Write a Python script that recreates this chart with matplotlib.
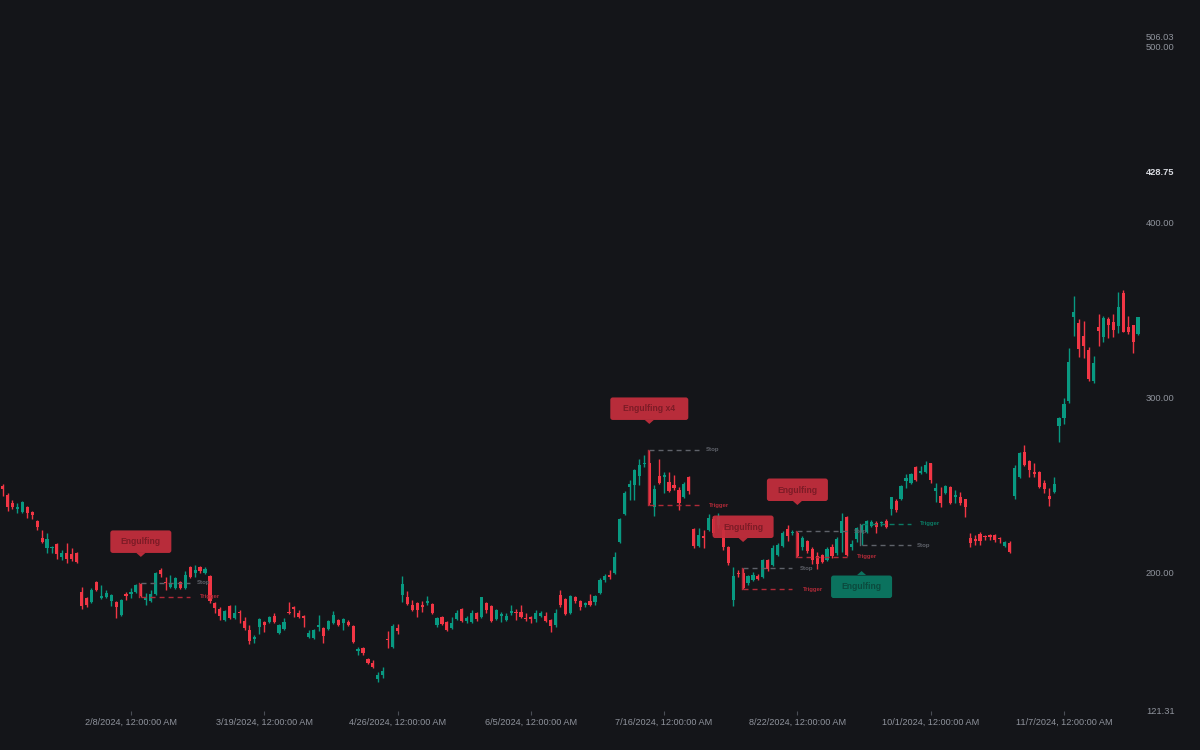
import numpy as np
import matplotlib.pyplot as plt
import matplotlib.transforms as mtransforms
from matplotlib.patches import FancyBboxPatch, Polygon

plt.rcParams['font.family'] = ['Liberation Sans', 'DejaVu Sans']

# daily OHLC, one row per 10 bars (first bar = 1/2/2024)
opens = [249.6, 244.4, 239.9, 236.4, 234.7, 237.6, 234.7, 229.6, 219.9, 214.2,
         214.2, 216.5, 209.1, 211.4, 210.8, 211.4, 189.1, 185.7, 183.4, 194.8,
         185.7, 186.3, 184.0, 183.4, 176.0, 188.0, 188.0, 189.1, 193.7, 184.6,
         184.0, 188.0, 201.7, 194.8, 192.0, 191.4, 194.8, 191.4, 203.4, 200.0,
         203.4, 200.0, 198.3, 182.9, 179.4, 173.2, 181.2, 174.3, 177.7, 172.6,
         167.5, 162.4, 169.2, 172.0, 172.0, 175.5, 165.8, 168.0, 177.7, 180.6,
         177.2, 175.5, 163.5, 162.9, 169.2, 168.6, 168.0, 171.5, 173.2, 171.5,
         172.0, 169.7, 155.5, 157.2, 150.9, 148.7, 139.5, 141.8, 162.4, 157.8,
         168.6, 187.4, 186.3, 181.7, 182.9, 181.7, 182.9, 182.3, 170.3, 174.9,
         172.0, 168.6, 173.8, 179.4, 172.6, 172.0, 177.2, 174.9, 182.9, 181.2,
         173.8, 175.5, 173.2, 177.2, 177.7, 177.7, 174.3, 174.9, 173.8, 175.5,
         175.5, 173.2, 170.3, 187.4, 185.1, 177.2, 186.3, 184.0, 181.7, 184.0,
         183.4, 188.6, 196.0, 198.8, 200.0, 217.6, 233.6, 249.0, 250.1, 255.3,
         262.1, 262.7, 237.6, 255.3, 254.7, 251.8, 250.1, 247.3, 243.3, 254.7,
         225.0, 215.4, 221.1, 224.5, 230.7, 227.3, 224.5, 214.8, 184.6, 200.0,
         200.0, 194.3, 196.0, 198.3, 197.7, 207.4, 204.5, 210.2, 215.4, 225.0,
         222.8, 222.8, 214.8, 218.2, 213.7, 209.7, 210.2, 207.4, 214.8, 211.4,
         222.8, 231.9, 214.8, 219.3, 223.3, 223.3, 226.7, 228.4, 228.4, 229.6,
         236.4, 241.0, 242.1, 252.4, 251.3, 260.4, 257.0, 257.5, 262.7, 246.7,
         243.9, 245.6, 249.0, 243.3, 243.3, 242.1, 219.9, 219.3, 222.2, 221.1,
         221.6, 221.6, 219.9, 215.4, 217.1, 243.9, 254.7, 268.9, 263.8, 257.5,
         257.5, 251.3, 243.9, 246.1, 283.8, 288.3, 298.0, 345.9, 342.5, 335.1,
         327.1, 309.4, 340.2, 334.5, 344.7, 343.0, 340.7, 359.6, 340.2, 341.3,
         336.1]
highs = [250.7, 245.6, 241.6, 239.9, 241.0, 238.2, 235.3, 230.2, 224.5, 222.8,
         215.4, 217.1, 213.1, 217.1, 214.2, 212.0, 192.0, 186.3, 191.4, 195.4,
         193.1, 190.3, 188.0, 184.0, 185.1, 189.1, 191.4, 193.7, 194.3, 188.6,
         190.3, 200.5, 202.8, 197.7, 198.8, 197.7, 195.4, 201.1, 204.0, 204.5,
         204.0, 203.4, 198.8, 183.4, 180.6, 178.9, 181.7, 181.7, 178.9, 174.9,
         170.3, 164.6, 174.3, 172.6, 175.5, 177.2, 170.9, 174.3, 183.4, 181.2,
         178.9, 176.0, 167.5, 168.0, 176.0, 169.2, 173.2, 178.3, 173.8, 174.3,
         173.2, 170.3, 157.8, 157.8, 151.5, 150.4, 143.5, 146.4, 166.9, 170.9,
         170.9, 198.3, 189.7, 184.6, 183.4, 184.0, 186.9, 182.9, 174.9, 175.5,
         172.6, 174.9, 178.9, 180.0, 175.5, 178.9, 177.7, 186.3, 183.4, 181.7,
         179.4, 177.7, 177.2, 181.7, 179.4, 181.7, 177.2, 175.5, 178.9, 178.3,
         177.7, 173.8, 179.4, 190.3, 185.7, 187.4, 186.9, 184.6, 183.4, 188.0,
         187.4, 197.1, 199.4, 201.7, 212.0, 231.3, 246.7, 253.0, 259.2, 264.9,
         267.2, 270.1, 250.1, 264.9, 257.5, 257.5, 255.8, 249.0, 251.8, 255.3,
         225.6, 225.6, 224.5, 233.6, 232.5, 234.2, 226.2, 215.4, 203.4, 201.7,
         202.8, 198.8, 200.5, 199.4, 207.9, 207.9, 215.9, 217.1, 223.9, 227.3,
         224.5, 223.9, 221.1, 218.8, 214.8, 212.0, 210.8, 214.8, 216.5, 220.5,
         234.2, 232.5, 218.8, 226.2, 227.9, 230.2, 230.2, 229.6, 229.6, 230.7,
         243.3, 242.1, 250.1, 256.4, 257.0, 260.9, 260.9, 263.8, 262.7, 251.3,
         249.0, 250.1, 249.6, 247.3, 246.1, 242.1, 222.8, 221.6, 223.3, 221.6,
         222.2, 222.2, 220.5, 218.2, 218.2, 261.5, 268.9, 272.9, 264.4, 262.7,
         258.1, 253.0, 248.4, 254.7, 288.9, 299.7, 328.2, 357.9, 344.7, 343.6,
         328.8, 323.7, 347.6, 346.5, 345.9, 347.6, 360.1, 361.3, 346.5, 341.3,
         345.9]
lows = [243.9, 235.3, 236.4, 234.2, 234.2, 231.3, 230.7, 224.5, 217.1, 211.4,
        211.4, 207.9, 207.4, 205.7, 206.8, 205.7, 179.4, 180.6, 182.9, 189.7,
        185.1, 185.7, 181.2, 174.3, 175.5, 184.6, 185.7, 188.6, 186.3, 181.7,
        183.4, 187.4, 197.7, 190.3, 191.4, 190.8, 190.8, 190.8, 197.1, 197.7,
        200.0, 199.4, 182.9, 177.2, 173.2, 172.6, 173.8, 173.8, 171.5, 167.5,
        159.5, 160.1, 165.2, 166.3, 171.5, 171.5, 165.2, 167.5, 176.6, 174.9,
        174.3, 169.2, 162.9, 162.4, 166.9, 160.1, 167.5, 170.9, 169.7, 167.5,
        169.7, 160.1, 153.2, 153.2, 148.1, 145.8, 137.8, 140.1, 157.2, 157.2,
        165.2, 183.4, 181.7, 178.3, 174.9, 177.7, 181.7, 176.6, 169.2, 170.3,
        166.9, 168.0, 173.2, 172.0, 171.5, 171.5, 172.6, 174.3, 177.2, 172.0,
        173.2, 172.0, 172.6, 176.0, 173.2, 174.3, 172.6, 171.5, 172.0, 174.9,
        172.0, 166.3, 169.2, 180.6, 176.0, 176.6, 182.9, 178.9, 180.6, 181.2,
        181.7, 188.0, 194.8, 196.5, 199.4, 217.1, 233.0, 241.6, 241.6, 250.1,
        260.4, 238.7, 232.5, 250.7, 245.6, 246.1, 247.3, 235.9, 242.7, 245.0,
        214.2, 214.8, 214.2, 223.9, 221.6, 225.6, 213.1, 204.5, 181.2, 197.7,
        190.8, 193.1, 195.4, 196.0, 197.1, 201.1, 203.9, 209.7, 214.8, 218.2,
        221.6, 209.1, 213.1, 211.4, 205.1, 202.2, 205.7, 206.8, 208.5, 210.2,
        212.0, 209.7, 213.1, 217.6, 215.9, 222.8, 226.2, 222.8, 226.7, 225.6,
        233.0, 234.7, 241.6, 248.4, 250.7, 252.4, 256.4, 257.0, 251.3, 240.4,
        237.6, 245.0, 239.3, 239.9, 238.7, 231.9, 214.8, 215.9, 215.9, 218.8,
        218.8, 217.6, 217.1, 214.8, 211.4, 242.1, 254.1, 260.9, 254.7, 254.7,
        248.4, 245.6, 238.2, 245.6, 274.6, 284.9, 296.9, 335.0, 323.1, 322.5,
        309.4, 308.3, 329.4, 331.6, 333.9, 334.5, 336.8, 337.3, 336.1, 325.4,
        335.6]
closes = [247.9, 237.6, 237.6, 237.6, 240.4, 234.2, 233.0, 226.2, 217.6, 219.3,
          214.8, 210.8, 211.4, 207.9, 207.9, 206.2, 181.2, 181.7, 190.3, 190.3,
          186.9, 188.6, 187.4, 180.6, 184.6, 186.9, 189.1, 193.1, 186.9, 185.7,
          188.0, 200.0, 199.4, 194.3, 194.3, 197.1, 191.4, 198.8, 197.7, 201.7,
          201.1, 202.2, 184.0, 180.0, 175.5, 178.3, 174.3, 177.2, 177.2, 168.6,
          161.2, 163.5, 173.8, 170.3, 174.9, 172.0, 170.3, 172.0, 177.2, 179.4,
          174.9, 174.3, 165.8, 167.5, 170.3, 164.1, 172.6, 176.0, 170.3, 173.8,
          170.3, 160.6, 156.6, 154.4, 148.7, 146.4, 141.8, 144.1, 161.8, 169.7,
          166.9, 193.7, 182.3, 178.9, 178.9, 180.6, 184.0, 177.2, 174.3, 170.9,
          167.5, 171.5, 177.2, 172.6, 174.3, 177.2, 173.8, 186.3, 178.9, 172.6,
          178.9, 176.6, 175.5, 178.3, 177.2, 174.9, 173.8, 173.8, 177.2, 177.2,
          172.6, 169.7, 177.2, 181.7, 176.6, 186.9, 184.0, 180.6, 182.9, 181.7,
          186.9, 196.0, 198.3, 197.7, 209.1, 230.7, 245.6, 250.7, 258.7, 261.5,
          262.7, 239.9, 247.9, 251.3, 255.8, 246.7, 248.4, 239.9, 250.7, 246.7,
          215.4, 221.6, 219.9, 231.3, 222.8, 231.9, 214.8, 205.7, 198.3, 199.4,
          191.4, 198.3, 198.8, 196.5, 207.4, 202.2, 214.2, 215.9, 222.8, 221.1,
          223.3, 209.7, 219.9, 212.5, 207.4, 205.1, 206.2, 213.7, 209.7, 219.3,
          229.6, 210.2, 216.5, 225.6, 227.3, 229.6, 229.0, 226.2, 229.0, 226.2,
          243.3, 235.9, 249.6, 254.1, 256.4, 253.0, 258.1, 261.5, 253.0, 248.4,
          239.9, 249.6, 239.9, 244.4, 239.9, 237.6, 217.1, 218.2, 218.2, 220.5,
          220.5, 218.8, 219.3, 217.6, 211.9, 259.8, 268.4, 261.5, 258.7, 256.4,
          249.0, 247.9, 242.1, 250.7, 288.3, 296.3, 320.2, 348.7, 327.6, 329.4,
          310.6, 319.7, 337.9, 345.3, 341.3, 338.5, 351.6, 337.3, 337.3, 331.6,
          345.9]

# x-axis ticks (bar index -> label)
xtick_idx = [26, 53, 80, 107, 134, 161, 188, 215]
xtick_labels = ['2/8/2024, 12:00:00 AM', '3/19/2024, 12:00:00 AM',
                '4/26/2024, 12:00:00 AM', '6/5/2024, 12:00:00 AM',
                '7/16/2024, 12:00:00 AM', '8/22/2024, 12:00:00 AM',
                '10/1/2024, 12:00:00 AM', '11/7/2024, 12:00:00 AM']
ytick_vals = [121.31, 200, 300, 400, 428.75, 500, 506.03]
ytick_labels = ['121.31', '200.00', '300.00', '400.00', '428.75', '500.00', '506.03']

# detected patterns: bar index, label, bullish?
pattern_idx = [28, 131, 150, 161, 174]
pattern_labels = ['Engulfing', 'Engulfing x4', 'Engulfing', 'Engulfing', 'Engulfing']
pattern_bull = [False, False, False, False, True]

BG = '#141519'
GREEN = '#089981'
RED = '#f23645'
TXT = '#8f939c'
BOX_RED, BOX_RED_TXT = '#c62e3d', '#7c1b26'
BOX_GREEN, BOX_GREEN_TXT = '#0b7a64', '#0b4a3d'
STOP_C = '#5f626a'

o = np.array(opens); h = np.array(highs); l = np.array(lows); c = np.array(closes)
x = np.arange(len(o))
cols = np.where(c >= o, GREEN, RED)

fig = plt.figure(figsize=(12, 7.5), dpi=100, facecolor=BG)
ax = fig.add_axes([0, 39 / 750, 1140 / 1200, 675 / 750])
ax.set_facecolor(BG)
ax.set_xlim(-0.53, 230.4)
ax.set_ylim(121.31, 506.03)

ax.vlines(x, l, h, colors=cols, lw=1, zorder=2)
ax.bar(x, np.maximum(np.abs(c - o), 0.6), bottom=np.minimum(o, c),
       width=0.64, color=cols, lw=0, zorder=3)


def anchor(xv, yv):
    # pixel offsets around a data point
    return mtransforms.IdentityTransform() + mtransforms.ScaledTranslation(xv, yv, ax.transData)


for i, lab, bull in zip(pattern_idx, pattern_labels, pattern_bull):
    box_c, txt_c = (BOX_GREEN, BOX_GREEN_TXT) if bull else (BOX_RED, BOX_RED_TXT)
    if bull:
        trig, stop = h[i], l[i]
        tr = anchor(i, stop)
        ty, tip, base = -41.5, -26, -30
        trig_c = BOX_GREEN
    else:
        trig, stop = l[i], h[i]
        tr = anchor(i, stop)
        ty, tip, base = 41, 26, 30
        trig_c = '#b02a38'
    ax.text(0, ty, lab, transform=tr, ha='center', va='center', fontsize=6.2,
            fontweight='bold', color=txt_c, zorder=7)
    w = 61 if lab == 'Engulfing' else 78
    y0 = base if not bull else base - 23
    ax.add_patch(FancyBboxPatch((-w / 2, y0), w, 22.5, boxstyle='round,pad=0,rounding_size=2.5',
                                transform=tr, fc=box_c, ec='none', alpha=0.93, zorder=6))
    ax.add_patch(Polygon([(-4.5, base), (4.5, base), (0, tip)], closed=True,
                         transform=tr, fc=box_c, ec='none', alpha=0.93, zorder=6))
    # stop / trigger lines
    ax.plot([i, i + 10], [stop, stop], color=STOP_C, lw=1, dashes=(3.6, 2.9), zorder=4)
    ax.plot([i, i + 10], [trig, trig], color=trig_c, lw=1, dashes=(3.6, 2.9), zorder=4)
    low_c = STOP_C if bull else trig_c
    ax.plot([i - 0.3, i - 0.3], [stop, trig], color=low_c, lw=1, zorder=4)
    ax.text(7 if not bull else 6, 0, 'Stop', transform=anchor(i + 10, stop), ha='left',
            va='center', fontsize=4.3, fontweight='bold', color=STOP_C, zorder=7)
    ax.text(10 if not bull else 9, 0, 'Trigger', transform=anchor(i + 10, trig), ha='left',
            va='center', fontsize=4.3, fontweight='bold', color=trig_c, zorder=7)

ax.yaxis.tick_right()
ax.set_yticks(ytick_vals, ytick_labels)
ax.tick_params(axis='y', length=0, pad=4.3, labelsize=6.7, labelcolor=TXT)
for t in ax.get_yticklabels():
    if t.get_text() == '428.75':
        t.set_fontweight('bold')
        t.set_color('#d8dae0')

ax.set_xticks(xtick_idx, xtick_labels)
ax.tick_params(axis='x', length=3, width=0.8, color='#4a4d55', labelcolor=TXT,
               labelsize=6.6, pad=1.8)
for s in ax.spines.values():
    s.set_visible(False)

ax.set_xlim(-0.53, 230.4)
ax.set_ylim(121.31, 506.03)
fig.savefig('out.png', dpi=100, facecolor=BG)
